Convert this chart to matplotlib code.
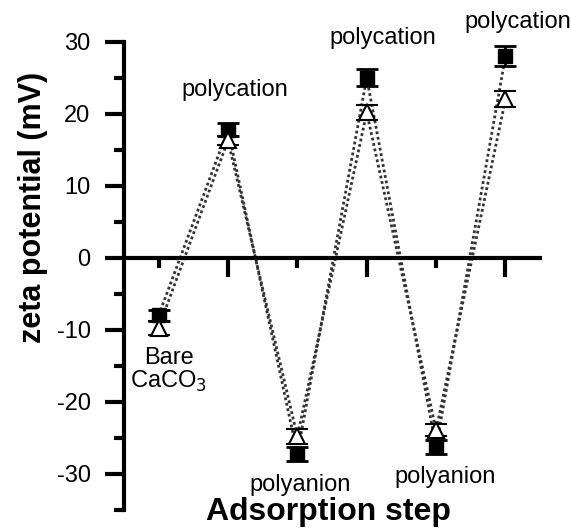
import matplotlib
matplotlib.use("Agg")
import matplotlib.pyplot as plt
from matplotlib.ticker import FixedLocator

plt.rcParams['font.family'] = ['Liberation Sans', 'DejaVu Sans']
plt.rcParams['axes.unicode_minus'] = False

steps = [1, 2, 3, 4, 5, 6]
# filled squares
zeta_sq = [-8.0, 17.8, -27.2, 25.0, -26.3, 28.0]
err_sq = [0.7, 0.9, 1.0, 1.2, 1.0, 1.4]
# open triangles
zeta_tri = [-9.7, 16.3, -24.8, 20.2, -23.9, 22.0]
err_tri = [1.0, 0.6, 1.1, 1.0, 0.9, 1.1]

labels = ["Bare\nCaCO$_3$", "polycation", "polyanion", "polycation", "polyanion", "polycation"]
label_x = [1.15, 2.1, 3.04, 4.23, 5.13, 6.18]
label_y = [-15.6, 23.3, -31.5, 30.5, -30.4, 32.8]

fig = plt.figure(figsize=(5.71, 5.29), dpi=100)
ax = fig.add_axes([0.217, 0.036, 0.729, 0.885])

ax.errorbar(steps, zeta_sq, yerr=err_sq, fmt='s', color='black', ms=10,
            capsize=8, capthick=2, elinewidth=2, zorder=3)
ax.errorbar(steps, zeta_tri, yerr=err_tri, fmt='^', color='black', mfc='white',
            mec='black', mew=1.5, ms=12, capsize=8, capthick=2, elinewidth=2, zorder=4)
ax.plot(steps, zeta_sq, color='#333333', lw=2, linestyle=(0, (1, 1)), zorder=2)
ax.plot(steps, zeta_tri, color='#333333', lw=2, linestyle=(0, (1, 1)), zorder=2)

for s, t, ty in zip(label_x, labels, label_y):
    ax.text(s, ty, t, ha='center', va='center', fontsize=17, linespacing=1.0)

ax.set_xlim(0.5, 6.5)
ax.set_ylim(-35, 30)
ax.spines['top'].set_visible(False)
ax.spines['right'].set_visible(False)
ax.spines['bottom'].set_position(('data', 0))
ax.spines['left'].set_linewidth(3)
ax.spines['bottom'].set_linewidth(3)

ax.xaxis.set_major_locator(FixedLocator([2, 4, 6]))
ax.xaxis.set_minor_locator(FixedLocator([1, 3, 5]))
ax.set_xticklabels([])
ax.yaxis.set_major_locator(FixedLocator([-30, -20, -10, 0, 10, 20, 30]))
ax.yaxis.set_minor_locator(FixedLocator([-35, -25, -15, -5, 5, 15, 25]))
ax.tick_params(axis='both', which='major', length=14, width=3, labelsize=17, pad=10)
ax.tick_params(axis='both', which='minor', length=7, width=3)

fig.text(0.057, 0.607, "zeta potential (mV)", rotation=90, ha='center', va='center',
         fontsize=22, fontweight='bold')
fig.text(0.576, 0.033, "Adsorption step", ha='center', va='center',
         fontsize=23, fontweight='bold')

fig.savefig("out.png", dpi=100)
